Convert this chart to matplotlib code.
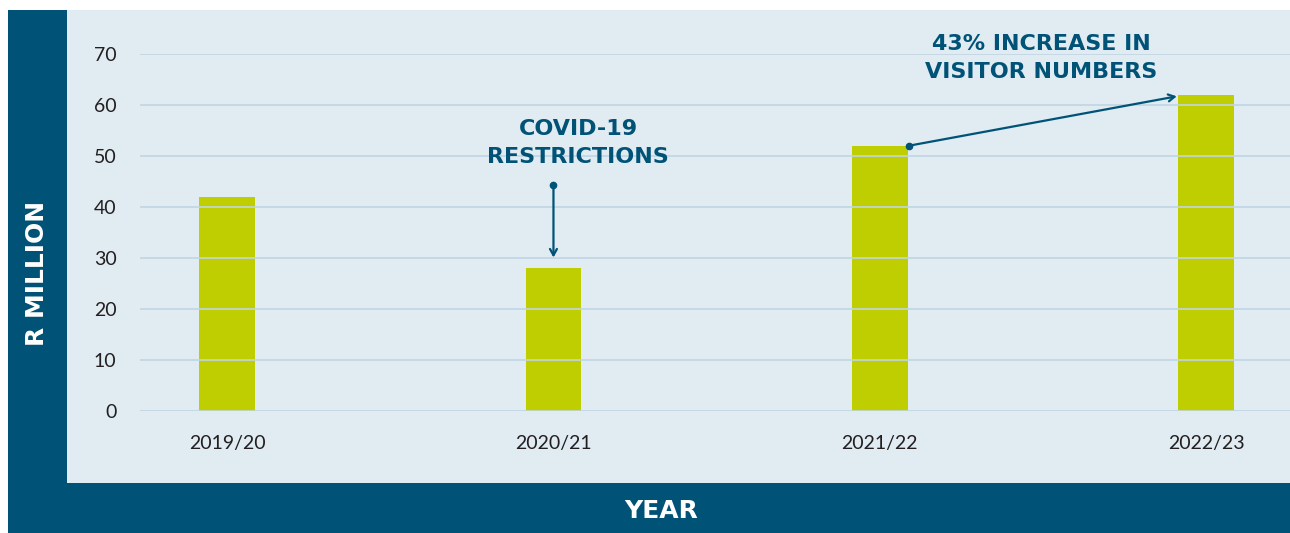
import matplotlib.pyplot as plt
from matplotlib.patches import Rectangle

# Revenue per financial year, R million
years = ['2019/20', '2020/21', '2021/22', '2022/23']
revenue = [42, 28, 52, 62]
y_ticks = [0, 10, 20, 30, 40, 50, 60, 70]

TEAL = '#005377'
PANEL = '#e0ebf2'
GRID = '#c0d5e4'
BAR = '#bfce00'
INK = '#231f20'

W, H = 1290, 533
fig = plt.figure(figsize=(W / 100, H / 100), dpi=100, facecolor='white')

def px(x0, y0, x1, y1):
    # pixel box (top-left origin) -> figure fraction rect
    return [x0 / W, 1 - y1 / H, (x1 - x0) / W, (y1 - y0) / H]

# dark frame and light panel behind the plot
l, b, w, h = px(8, 10, W, H)
fig.patches.append(Rectangle((l, b), w, h, transform=fig.transFigure,
                             facecolor=TEAL, edgecolor='none', zorder=-10))
l, b, w, h = px(67, 10, W, 483)
fig.patches.append(Rectangle((l, b), w, h, transform=fig.transFigure,
                             facecolor=PANEL, edgecolor='none', zorder=-9))

ax = fig.add_axes(px(140, 54, W, 411))
ax.set_facecolor('none')
xs = list(range(len(years)))
ax.bar(xs, revenue, width=0.17, color=BAR, zorder=2)

ax.set_xlim(-0.267, 3.257)
ax.set_ylim(0, 70)
ax.set_yticks(y_ticks)
ax.set_xticks(xs)
ax.set_xticklabels(years)
for y in y_ticks:
    ax.axhline(y, color=GRID, lw=1.2, zorder=3)
for s in ax.spines.values():
    s.set_visible(False)
ax.tick_params(length=0, labelsize=14, labelcolor=INK)
ax.tick_params(axis='y', pad=17)
ax.tick_params(axis='x', pad=17)
for t in ax.get_xticklabels() + ax.get_yticklabels():
    t.set_fontfamily('Lato')

# axis titles in the frame
bold = dict(fontweight='bold', family='DejaVu Sans', ha='center', va='center')
fig.text(37 / W, 1 - 273 / H, 'R MILLION', rotation=90, color='white',
         fontsize=18, **bold)
fig.text(661 / W, 1 - 511 / H, 'YEAR', color='white', fontsize=18, **bold)

# annotations
arrow = dict(arrowstyle='->,head_length=0.45,head_width=0.25', color=TEAL, lw=1.6,
             shrinkA=0, shrinkB=0)
ax.annotate('', xy=(1, 30.1), xytext=(1, 44.4), arrowprops=arrow,
            annotation_clip=False, zorder=5)
ax.plot([1], [44.4], 'o', color=TEAL, ms=4.5, clip_on=False, zorder=5)
ax.text(1.075, 52.5, 'COVID-19\nRESTRICTIONS', color=TEAL, fontsize=16,
        linespacing=1.5, zorder=5, **bold)

ax.annotate('', xy=(2.91, 61.7), xytext=(2.088, 52), arrowprops=arrow,
            annotation_clip=False, zorder=5)
ax.plot([2.088], [52], 'o', color=TEAL, ms=4.5, clip_on=False, zorder=5)
ax.text(2.495, 69.3, '43% INCREASE IN\nVISITOR NUMBERS', color=TEAL, fontsize=16,
        linespacing=1.5, zorder=5, **bold)

fig.savefig('out.png', dpi=100, facecolor='white')
